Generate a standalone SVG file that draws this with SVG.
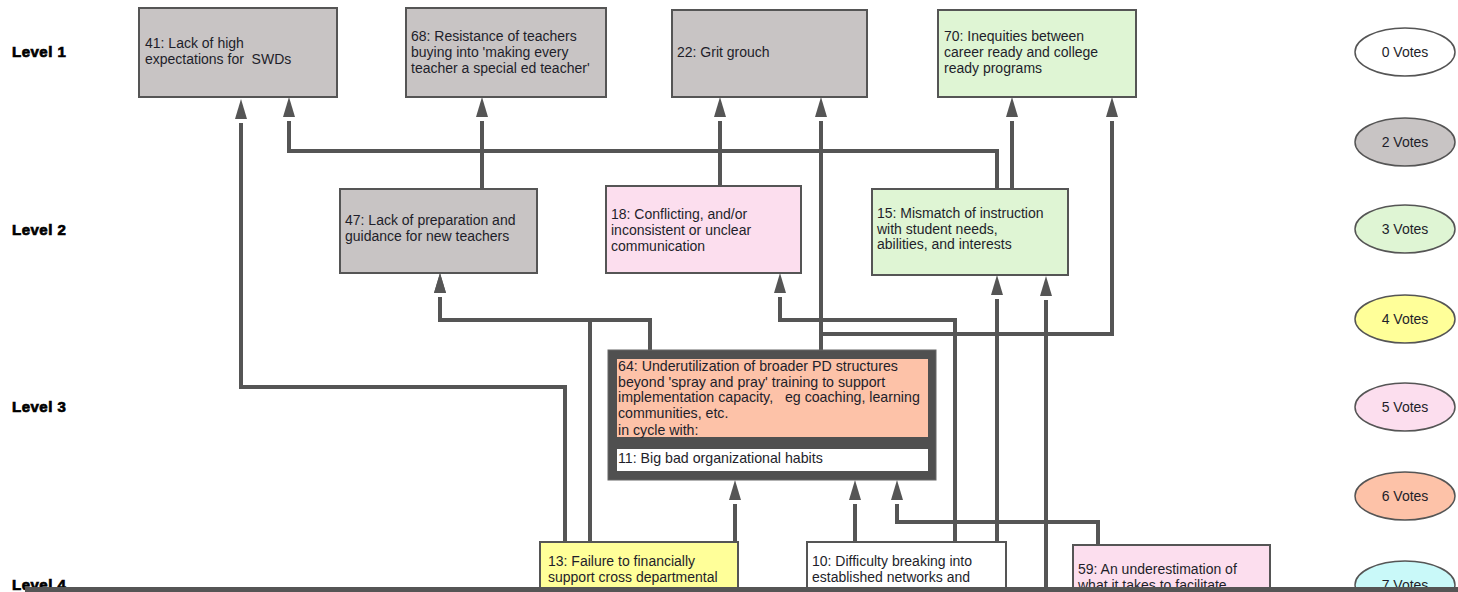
<svg xmlns="http://www.w3.org/2000/svg" width="1458" height="592" viewBox="0 0 1458 592">
  <style>
    text { white-space: pre; }
    .lvl { font-family: "Liberation Sans", Arial, sans-serif; font-size: 15px; font-weight: bold; letter-spacing: 0.5px; fill: #000; stroke: #000; stroke-width: 0.7; }
    .box { stroke: #555; stroke-width: 2; }
    .txt { font-family: "Liberation Sans", Arial, sans-serif; font-size: 14px; fill: #1e1e2a; }
    .big { font-family: "Liberation Sans", Arial, sans-serif; font-size: 14.2px; fill: #1e1e2a; }
    .leg { stroke: #555; stroke-width: 1.5; }
    .legt { font-family: "Liberation Sans", Arial, sans-serif; font-size: 14px; fill: #1e1e2a; text-anchor: middle; }
    .gray { fill: #c8c4c4; }
    .green { fill: #dff5d4; }
    .pink { fill: #fcdeee; }
    .yellow { fill: #ffff99; }
    .salmon { fill: #fdc2a8; }
    .cyan { fill: #c9f9f9; }
    .white { fill: #ffffff; }
    .wire { fill: none; stroke: #555; stroke-width: 4; stroke-linejoin: miter; marker-end: url(#up); }
  </style>
  <defs>
    <!-- arrowhead sits a few pixels beyond the end of its line -->
    <marker id="up" markerUnits="userSpaceOnUse" markerWidth="30" markerHeight="16" refX="0" refY="8" orient="auto" overflow="visible">
      <polygon points="4,2 24,8 4,14" fill="#555"/>
    </marker>
  </defs>

  <rect width="1458" height="592" fill="#ffffff"/>

  <!-- level labels -->
  <g id="levels">
    <text class="lvl" x="12" y="57">Level 1</text>
    <text class="lvl" x="12" y="235">Level 2</text>
    <text class="lvl" x="12" y="412">Level 3</text>
    <text class="lvl" x="12" y="590">Level 4</text>
  </g>

  <!-- connectors -->
  <g id="connectors">
    <path class="wire" d="M565,542 V387 H241 V123"/>
    <path class="wire" d="M590,542 V320 H440 V297"/>
    <path class="wire" d="M650,350 V320 H440 V297"/>
    <path class="wire" d="M821,350 V121"/>
    <path class="wire" d="M821,350 V334 H1112 V121"/>
    <path class="wire" d="M955,542 V320 H780 V297"/>
    <path class="wire" d="M997,542 V299"/>
    <path class="wire" d="M1046,600 V300"/>
    <path class="wire" d="M1098,545 V522 H897 V504"/>
    <path class="wire" d="M855,542 V504"/>
    <path class="wire" d="M735,542 V504"/>
    <path class="wire" d="M997,189 V151 H289 V121"/>
    <path class="wire" d="M1012,189 V121"/>
    <path class="wire" d="M720,186 V121"/>
    <path class="wire" d="M482,189 V121"/>
  </g>

  <!-- level 1 -->
  <g id="n41">
    <rect class="box gray" x="139" y="8" width="198" height="89"/>
    <text class="txt" x="145" y="48">41: Lack of high</text>
    <text class="txt" x="145" y="64">expectations for  SWDs</text>
  </g>
  <g id="n68">
    <rect class="box gray" x="406" y="8" width="200" height="89"/>
    <text class="txt" x="411" y="41">68: Resistance of teachers</text>
    <text class="txt" x="411" y="57">buying into 'making every</text>
    <text class="txt" x="411" y="73">teacher a special ed teacher'</text>
  </g>
  <g id="n22">
    <rect class="box gray" x="672" y="10" width="195" height="87"/>
    <text class="txt" x="677" y="57">22: Grit grouch</text>
  </g>
  <g id="n70">
    <rect class="box green" x="938" y="10" width="198" height="87"/>
    <text class="txt" x="944" y="41">70: Inequities between</text>
    <text class="txt" x="944" y="57">career ready and college</text>
    <text class="txt" x="944" y="73">ready programs</text>
  </g>

  <!-- level 2 -->
  <g id="n47">
    <rect class="box gray" x="340" y="189" width="197" height="84"/>
    <text class="txt" x="345" y="225">47: Lack of preparation and</text>
    <text class="txt" x="345" y="241">guidance for new teachers</text>
  </g>
  <g id="n18">
    <rect class="box pink" x="606" y="186" width="195" height="87"/>
    <text class="txt" x="611" y="219">18: Conflicting, and/or</text>
    <text class="txt" x="611" y="235">inconsistent or unclear</text>
    <text class="txt" x="611" y="251">communication</text>
  </g>
  <g id="n15">
    <rect class="box green" x="872" y="189" width="196" height="86"/>
    <text class="txt" x="877" y="218">15: Mismatch of instruction</text>
    <text class="txt" x="877" y="234">with student needs,</text>
    <text class="txt" x="877" y="249">abilities, and interests</text>
  </g>

  <!-- level 3: cycle -->
  <g id="cycle64">
    <rect x="608" y="350" width="328" height="130" fill="#505050" stroke="#666" stroke-width="1"/>
    <rect class="salmon" x="617" y="359" width="311" height="78"/>
    <text class="big" x="618" y="371">64: Underutilization of broader PD structures</text>
    <text class="big" x="618" y="387">beyond 'spray and pray' training to support</text>
    <text class="big" x="618" y="402">implementation capacity,   eg coaching, learning</text>
    <text class="big" x="618" y="418">communities, etc.</text>
    <text class="big" x="618" y="435">in cycle with:</text>
    <rect class="white" x="617" y="449" width="311" height="22"/>
    <text class="big" x="618" y="463">11: Big bad organizational habits</text>
  </g>

  <!-- level 4 -->
  <g id="n13">
    <rect class="box yellow" x="540" y="542" width="198" height="70"/>
    <text class="txt" x="548" y="566">13: Failure to financially</text>
    <text class="txt" x="548" y="582">support cross departmental</text>
  </g>
  <g id="n10">
    <rect class="box white" x="807" y="542" width="199" height="70"/>
    <text class="txt" x="812" y="566">10: Difficulty breaking into</text>
    <text class="txt" x="812" y="582">established networks and</text>
  </g>
  <g id="n59">
    <rect class="box pink" x="1073" y="545" width="197" height="70"/>
    <text class="txt" x="1078" y="574">59: An underestimation of</text>
    <text class="txt" x="1078" y="590">what it takes to facilitate</text>
  </g>

  <!-- vote legend -->
  <g id="legend">
    <ellipse class="leg white" cx="1405" cy="52" rx="50" ry="24"/>
    <text class="legt" x="1405" y="57">0 Votes</text>
    <ellipse class="leg gray" cx="1405" cy="142" rx="50" ry="24"/>
    <text class="legt" x="1405" y="147">2 Votes</text>
    <ellipse class="leg green" cx="1405" cy="229" rx="50" ry="24"/>
    <text class="legt" x="1405" y="234">3 Votes</text>
    <ellipse class="leg yellow" cx="1405" cy="319" rx="50" ry="24"/>
    <text class="legt" x="1405" y="324">4 Votes</text>
    <ellipse class="leg pink" cx="1405" cy="407" rx="50" ry="24"/>
    <text class="legt" x="1405" y="412">5 Votes</text>
    <ellipse class="leg salmon" cx="1405" cy="496" rx="50" ry="24"/>
    <text class="legt" x="1405" y="501">6 Votes</text>
    <ellipse class="leg cyan" cx="1405" cy="585" rx="50" ry="24"/>
    <text class="legt" x="1405" y="590">7 Votes</text>
  </g>

  <!-- bottom frame edge -->
  <rect x="25" y="587" width="1433" height="5" fill="#555"/>
</svg>
